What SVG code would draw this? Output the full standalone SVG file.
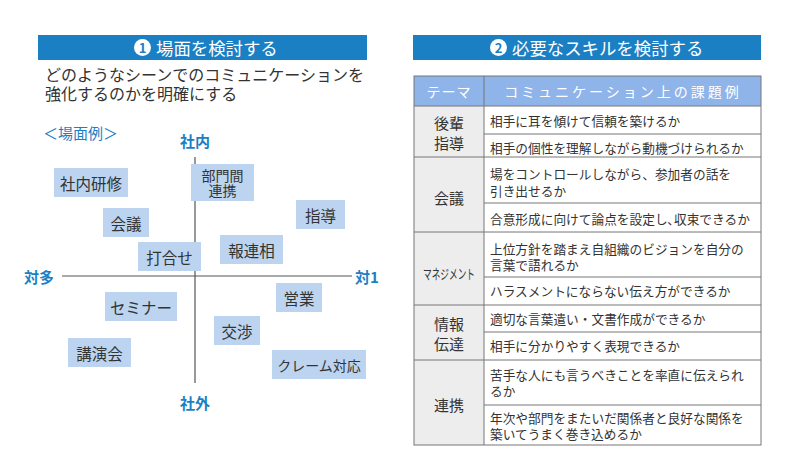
<svg xmlns="http://www.w3.org/2000/svg" width="790" height="470" viewBox="0 0 790 470">
<style>
text{font-family:"Noto Sans CJK JP","Noto Sans",sans-serif;}
.hbar{fill:#1b7fc4;}
.htxt{fill:#fff;font-size:17.4px;dominant-baseline:central;}
.numc{fill:#fff;}
.numt{fill:#1b7fc4;font-size:13px;font-weight:bold;text-anchor:middle;dominant-baseline:central;}
.sub{fill:#333;font-size:16px;}
.ax{fill:#1b7fc4;font-size:15px;font-weight:bold;text-anchor:middle;dominant-baseline:central;}
.axis{stroke:#555;stroke-width:1.2;fill:none;}
.box{fill:#bcd4f0;}
.bt{fill:#333;font-size:15.5px;text-anchor:middle;dominant-baseline:central;}
.bt2{fill:#333;font-size:14px;text-anchor:middle;dominant-baseline:central;}
.th{fill:#8fb4e9;}
.tht{fill:#fff;font-size:14px;text-anchor:middle;dominant-baseline:central;}
.lc{fill:#ededed;}
.tl{stroke:#777;stroke-width:1;fill:none;}
.tt{fill:#333;font-size:15px;text-anchor:middle;dominant-baseline:central;}
.tts{fill:#333;font-size:13.5px;text-anchor:middle;dominant-baseline:central;}
.rt{fill:#333;font-size:12.7px;dominant-baseline:central;}
</style>
<rect width="790" height="470" fill="#fff"/>

<g id="left-header">
<rect class="hbar" x="38" y="35" width="329" height="25"/>
<circle class="numc" cx="142.5" cy="47.5" r="8.5"/>
<text class="numt" x="142.5" y="47.5">1</text>
<text class="htxt" x="156" y="47.5">場面を検討する</text>
</g>
<g id="left-subtitle">
<text class="sub" x="45" y="81">どのようなシーンでのコミュニケーションを</text>
<text class="sub" x="45" y="100">強化するのかを明確にする</text>
</g>
<g id="scene-label">
<text x="43" y="132" fill="#1b7fc4" style="font-size:15px" dominant-baseline="central">＜場面例＞</text>
</g>

<g id="axes">
<line class="axis" x1="195" y1="157" x2="195" y2="383"/>
<line class="axis" x1="62" y1="276" x2="352" y2="276"/>
<text class="ax" x="195" y="140">社内</text>
<text class="ax" x="195" y="402">社外</text>
<text class="ax" x="39" y="276">対多</text>
<text class="ax" x="367" y="276">対1</text>
</g>

<g id="n-shanaikenshu"><rect class="box" x="54" y="168" width="74" height="29"/><text class="bt" x="91" y="182.5">社内研修</text></g>
<g id="n-bumonkan"><rect class="box" x="191" y="164" width="63" height="37"/><text class="bt2" x="222.5" y="175">部門間</text><text class="bt2" x="222.5" y="190">連携</text></g>
<g id="n-kaigi"><rect class="box" x="103" y="208" width="46" height="29"/><text class="bt" x="126" y="222.5">会議</text></g>
<g id="n-shido"><rect class="box" x="296" y="200" width="49" height="29"/><text class="bt" x="320.5" y="214.5">指導</text></g>
<g id="n-uchiawase"><rect class="box" x="138" y="242" width="63" height="29"/><text class="bt" x="169.5" y="256.5">打合せ</text></g>
<g id="n-horenso"><rect class="box" x="220" y="235" width="63" height="29"/><text class="bt" x="251.5" y="249.5">報連相</text></g>
<g id="n-eigyo"><rect class="box" x="276" y="283" width="46" height="29"/><text class="bt" x="299" y="297.5">営業</text></g>
<g id="n-seminar"><rect class="box" x="105" y="292" width="72" height="29"/><text class="bt" x="141" y="306.5">セミナー</text></g>
<g id="n-kosho"><rect class="box" x="214" y="316" width="46" height="29"/><text class="bt" x="237" y="330.5">交渉</text></g>
<g id="n-koenkai"><rect class="box" x="68" y="338" width="63" height="29"/><text class="bt" x="99.5" y="352.5">講演会</text></g>
<g id="n-claim"><rect class="box" x="272" y="350" width="94" height="29"/><text class="bt2" x="319" y="364.5">クレーム対応</text></g>

<g id="right-header">
<rect class="hbar" x="413" y="35" width="348" height="25"/>
<circle class="numc" cx="498.5" cy="47.5" r="8.5"/>
<text class="numt" x="498.5" y="47.5">2</text>
<text class="htxt" x="512" y="47.5">必要なスキルを検討する</text>
</g>

<g id="table">
<rect class="th" x="414" y="76" width="347" height="30"/>
<rect class="lc" x="414" y="106" width="70" height="339"/>
<text class="tht" x="449" y="91" letter-spacing="1">テーマ</text>
<text class="tht" x="623" y="91" letter-spacing="3">コミュニケーション上の課題例</text>

<rect class="tl" x="414" y="76" width="347" height="369" stroke="#666"/>
<line class="tl" x1="484" y1="76" x2="484" y2="445"/>
<line class="tl" x1="414" y1="106" x2="761" y2="106"/>
<line class="tl" x1="484" y1="134" x2="761" y2="134"/>
<line class="tl" x1="414" y1="157" x2="761" y2="157"/>
<line class="tl" x1="484" y1="203" x2="761" y2="203"/>
<line class="tl" x1="414" y1="232" x2="761" y2="232"/>
<line class="tl" x1="484" y1="277" x2="761" y2="277"/>
<line class="tl" x1="414" y1="305" x2="761" y2="305"/>
<line class="tl" x1="484" y1="332" x2="761" y2="332"/>
<line class="tl" x1="414" y1="360" x2="761" y2="360"/>
<line class="tl" x1="484" y1="405" x2="761" y2="405"/>

<text class="tt" x="449" y="122">後輩</text>
<text class="tt" x="449" y="142">指導</text>
<text class="tt" x="449" y="197">会議</text>
<text class="tts" x="449" y="273" textLength="52" lengthAdjust="spacingAndGlyphs">マネジメント</text>
<text class="tt" x="449" y="323">情報</text>
<text class="tt" x="449" y="343">伝達</text>
<text class="tt" x="449" y="404">連携</text>

<text class="rt" x="490" y="120">相手に耳を傾けて信頼を築けるか</text>
<text class="rt" x="490" y="147">相手の個性を理解しながら動機づけられるか</text>
<text class="rt" x="490" y="173">場をコントロールしながら、参加者の話を</text>
<text class="rt" x="490" y="190">引き出せるか</text>
<text class="rt" x="490" y="218">合意形成に向けて論点を設定し､収束できるか</text>
<text class="rt" x="490" y="248">上位方針を踏まえ自組織のビジョンを自分の</text>
<text class="rt" x="490" y="264">言葉で語れるか</text>
<text class="rt" x="490" y="290">ハラスメントにならない伝え方ができるか</text>
<text class="rt" x="490" y="318">適切な言葉遣い・文書作成ができるか</text>
<text class="rt" x="490" y="345">相手に分かりやすく表現できるか</text>
<text class="rt" x="490" y="374">苦手な人にも言うべきことを率直に伝えられ</text>
<text class="rt" x="490" y="390">るか</text>
<text class="rt" x="490" y="417">年次や部門をまたいだ関係者と良好な関係を</text>
<text class="rt" x="490" y="433">築いてうまく巻き込めるか</text>
</g>
</svg>
